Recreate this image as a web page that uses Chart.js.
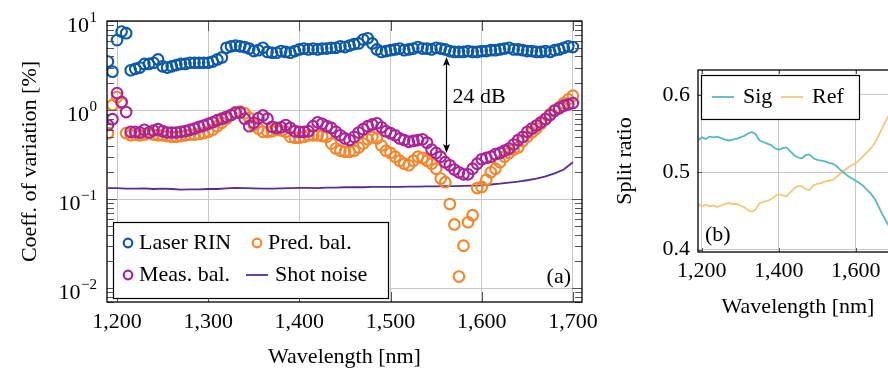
<!DOCTYPE html>
<html>
<head>
<meta charset="utf-8">
<script src="https://cdn.jsdelivr.net/npm/chart.js@4.4.1/dist/chart.umd.min.js"></script>
<style>
  html, body { margin: 0; padding: 0; background: #fff; overflow: hidden; width: 888px; height: 375px; }
  #wrapA { position: absolute; left: 0; top: 0; width: 600px; height: 375px; }
  #wrapB { position: absolute; left: 600px; top: 0; width: 330px; height: 375px; }
</style>
</head>
<body>
<div id="wrapA"><canvas id="chartA" width="600" height="375"></canvas></div>
<div id="wrapB"><canvas id="chartB" width="330" height="375"></canvas></div>
<script>
// --- data (a): coefficient of variation, every 5 nm
const wavelengths = [
  1190,1195,1200,1205,1210,1215,1220,1225,1230,1235,
  1240,1245,1250,1255,1260,1265,1270,1275,1280,1285,
  1290,1295,1300,1305,1310,1315,1320,1325,1330,1335,
  1340,1345,1350,1355,1360,1365,1370,1375,1380,1385,
  1390,1395,1400,1405,1410,1415,1420,1425,1430,1435,
  1440,1445,1450,1455,1460,1465,1470,1475,1480,1485,
  1490,1495,1500,1505,1510,1515,1520,1525,1530,1535,
  1540,1545,1550,1555,1560,1565,1570,1575,1580,1585,
  1590,1595,1600,1605,1610,1615,1620,1625,1630,1635,
  1640,1645,1650,1655,1660,1665,1670,1675,1680,1685,
  1690,1695,1700
];
const laserRin = [
  3.5, 2.7, 6.1, 7.6, 7.3, 2.8, 2.9, 3.0, 3.3, 3.3,
  3.4, 3.7, 3.1, 3.0, 3.1, 3.2, 3.3, 3.3, 3.4, 3.4,
  3.4, 3.4, 3.4, 3.5, 3.7, 3.9, 5.0, 5.2, 5.3, 5.2,
  5.1, 4.9, 4.6, 4.7, 5.0, 4.5, 4.4, 4.4, 4.6, 4.5,
  4.4, 4.6, 4.8, 4.9, 4.8, 4.9, 4.8, 4.9, 4.9, 5.0,
  5.0, 5.2, 5.1, 5.3, 5.5, 5.6, 6.2, 6.4, 5.6, 4.8,
  4.5, 4.6, 4.7, 4.8, 4.9, 4.7, 4.8, 4.9, 5.1, 4.9,
  4.9, 4.8, 5.0, 4.9, 4.8, 4.6, 4.5, 4.5, 4.5, 4.6,
  4.5, 4.5, 4.6, 4.6, 4.7, 4.7, 4.8, 4.9, 5.0, 4.8,
  4.8, 4.7, 4.6, 4.6, 4.5, 4.5, 4.6, 4.5, 4.7, 4.8,
  5.0, 5.2, 5.1
];
const predBal = [
  0.55, 1.14, 1.40, 1.20, 0.55, 0.52, 0.53, 0.52, 0.53, 0.55,
  0.53, 0.52, 0.52, 0.51, 0.50, 0.50, 0.51, 0.52, 0.53, 0.53,
  0.54, 0.55, 0.57, 0.60, 0.66, 0.72, 0.80, 0.88, 0.95, 0.96,
  0.92, 0.82, 0.68, 0.62, 0.57, 0.57, 0.58, 0.60, 0.59, 0.57,
  0.50, 0.49, 0.49, 0.50, 0.52, 0.52, 0.52, 0.51, 0.50, 0.42,
  0.37, 0.35, 0.34, 0.34, 0.35, 0.38, 0.42, 0.47, 0.50, 0.48,
  0.40, 0.35, 0.33, 0.30, 0.27, 0.25, 0.24, 0.27, 0.30, 0.29,
  0.27, 0.25, 0.22, 0.17, 0.155, 0.088, 0.052, 0.0135, 0.030, 0.055,
  0.066, 0.133, 0.137, 0.165, 0.20, 0.22, 0.26, 0.30, 0.33, 0.36,
  0.38, 0.45, 0.50, 0.56, 0.62, 0.70, 0.80, 0.90, 1.00, 1.07,
  1.20, 1.32, 1.45
];
const measBal = [
  0.68, 0.79, 1.55, 1.23, 0.95, 0.57, 0.57, 0.56, 0.60, 0.56,
  0.59, 0.61, 0.58, 0.56, 0.56, 0.56, 0.57, 0.58, 0.60, 0.62,
  0.65, 0.67, 0.70, 0.73, 0.77, 0.80, 0.84, 0.88, 0.93, 0.94,
  0.80, 0.66, 0.72, 0.81, 0.87, 0.80, 0.65, 0.63, 0.64, 0.68,
  0.63, 0.58, 0.57, 0.57, 0.58, 0.66, 0.73, 0.70, 0.66, 0.63,
  0.57, 0.52, 0.48, 0.46, 0.50, 0.56, 0.61, 0.66, 0.69, 0.71,
  0.64, 0.58, 0.55, 0.52, 0.48, 0.46, 0.44, 0.45, 0.46, 0.47,
  0.43, 0.36, 0.33, 0.30, 0.26, 0.24, 0.215, 0.20, 0.19, 0.19,
  0.22, 0.25, 0.28, 0.29, 0.30, 0.32, 0.33, 0.35, 0.37, 0.41,
  0.46, 0.50, 0.57, 0.62, 0.67, 0.73, 0.79, 0.88, 0.98, 1.05,
  1.12, 1.16, 1.20
];

// every 10 nm, used for the shot noise line and the split ratio (b)
const coarseWavelengths = [
  1190,1200,1210,1220,1230,1240,1250,1260,1270,1280,
  1290,1300,1310,1320,1330,1340,1350,1360,1370,1380,
  1390,1400,1410,1420,1430,1440,1450,1460,1470,1480,
  1490,1500,1510,1520,1530,1540,1550,1560,1570,1580,
  1590,1600,1610,1620,1630,1640,1650,1660,1670,1680,
  1690,1700
];
const shotNoise = [
  0.133,0.133,0.131,0.131,0.132,0.130,0.131,0.130,0.128,0.129,
  0.129,0.130,0.130,0.132,0.134,0.133,0.132,0.131,0.131,0.132,
  0.133,0.134,0.134,0.133,0.135,0.135,0.136,0.136,0.136,0.137,
  0.137,0.137,0.137,0.138,0.138,0.139,0.139,0.140,0.140,0.141,
  0.142,0.143,0.146,0.149,0.153,0.157,0.163,0.170,0.180,0.195,
  0.215,0.26
];

// --- data (b): split ratio
const sigRatio = [
  0.541,0.545,0.543,0.546,0.545,0.546,0.544,0.542,0.541,0.542,
  0.543,0.545,0.547,0.550,0.552,0.549,0.541,0.539,0.537,0.535,
  0.531,0.529,0.531,0.532,0.527,0.522,0.519,0.518,0.522,0.523,
  0.518,0.516,0.515,0.514,0.512,0.511,0.508,0.503,0.499,0.495,
  0.492,0.489,0.486,0.482,0.477,0.472,0.465,0.455,0.445,0.436,
  0.428,0.420
];
const refRatio = [
  0.459,0.456,0.458,0.456,0.457,0.455,0.457,0.459,0.460,0.459,
  0.459,0.457,0.455,0.451,0.449,0.452,0.460,0.462,0.463,0.465,
  0.469,0.472,0.470,0.469,0.474,0.479,0.482,0.482,0.478,0.477,
  0.483,0.485,0.486,0.488,0.489,0.490,0.494,0.498,0.502,0.506,
  0.509,0.512,0.516,0.521,0.526,0.531,0.538,0.548,0.558,0.568,
  0.577,0.585
];

// ticks
const xTicksA = [1200, 1300, 1400, 1500, 1600, 1700];
const yTicksA = [0.01, 0.1, 1, 10];
const yExpA = ['\u22122', '\u22121', '0', '1'];
const xTicksB = [1200, 1400, 1600];
const yTicksB = [0.4, 0.5, 0.6];

// 24 dB annotation (wavelength, top, bottom, text height)
const gapX = 1561;
const gapTop = 3.95;
const gapBottom = 0.33;
const gapTextY = 1.4;

// --- styling
const serif = '"Liberation Serif", "DejaVu Serif", serif';
Chart.defaults.font.family = serif;
Chart.defaults.font.size = 22;
Chart.defaults.color = '#000';
Chart.defaults.animation = false;

const cBlue = '#0c5aa6';
const cOrange = '#f5862b';
const cMagenta = '#ab2398';
const cViolet = '#5a2d8f';
const cTeal = '#56b9c4';
const cSand = '#f1c978';
const gridColor = '#c8c8c8';

function pts(xs, ys) {
  return xs.map((x, i) => ({ x: x, y: ys[i] }));
}

function circleSet(label, ys, color, order) {
  return {
    label: label, data: pts(wavelengths, ys), order: order,
    borderColor: color, backgroundColor: 'rgba(0,0,0,0)',
    pointRadius: 5.3, pointBorderWidth: 2.1, showLine: false
  };
}

function noPad(s) {
  s.paddingLeft = 0; s.paddingRight = 0; s.paddingTop = 0; s.paddingBottom = 0;
}

function drawMarker(ctx, ds, x, y) {
  ctx.save();
  ctx.strokeStyle = ds.borderColor;
  if (ds.showLine) {
    ctx.lineWidth = 1.8;
    ctx.beginPath(); ctx.moveTo(x - 11, y); ctx.lineTo(x + 11, y); ctx.stroke();
  } else {
    ctx.lineWidth = 2.2;
    ctx.beginPath(); ctx.arc(x, y, 4.3, 0, Math.PI * 2); ctx.stroke();
  }
  ctx.restore();
}

// frame, minor ticks, exponent labels, legend, annotation for (a)
const decorA = {
  id: 'decorA',
  afterDraw(chart) {
    const { ctx, chartArea: a, scales: { x, y } } = chart;
    ctx.save();

    ctx.strokeStyle = '#555';
    ctx.lineWidth = 1;
    ctx.beginPath();
    xTicksA.forEach(v => {
      const px = Math.round(x.getPixelForValue(v)) + 0.5;
      ctx.moveTo(px, a.top); ctx.lineTo(px, a.top + 10);
      ctx.moveTo(px, a.bottom); ctx.lineTo(px, a.bottom - 10);
    });
    for (let e = -3; e <= 1; e++) {
      for (let m = 1; m <= 9; m++) {
        const v = m * Math.pow(10, e);
        if (v < y.min || v > y.max) continue;
        const py = Math.round(y.getPixelForValue(v)) + 0.5;
        const len = m === 1 ? 10 : 7;
        ctx.moveTo(a.left, py); ctx.lineTo(a.left + len, py);
        ctx.moveTo(a.right, py); ctx.lineTo(a.right - len, py);
      }
    }
    ctx.stroke();

    ctx.strokeStyle = '#000';
    ctx.lineWidth = 1.3;
    ctx.strokeRect(a.left, a.top, a.right - a.left, a.bottom - a.top);

    // y tick labels 10^k
    ctx.fillStyle = '#000';
    ctx.textAlign = 'right';
    ctx.textBaseline = 'alphabetic';
    yTicksA.forEach((v, i) => {
      const py = y.getPixelForValue(v);
      ctx.font = '15px ' + serif;
      const ew = ctx.measureText(yExpA[i]).width;
      ctx.fillText(yExpA[i], a.left - 10, py + 1);
      ctx.font = '22px ' + serif;
      ctx.fillText('10', a.left - 10 - ew - 0.5, py + 11);
    });

    // 24 dB arrow
    const ax = Math.round(x.getPixelForValue(gapX)) + 0.5;
    const yT = y.getPixelForValue(gapTop);
    const yB = y.getPixelForValue(gapBottom);
    ctx.strokeStyle = '#000';
    ctx.lineWidth = 1.2;
    ctx.beginPath(); ctx.moveTo(ax, yT + 4); ctx.lineTo(ax, yB - 4); ctx.stroke();
    ctx.fillStyle = '#000';
    ctx.beginPath();
    ctx.moveTo(ax, yT); ctx.lineTo(ax - 3.5, yT + 9); ctx.lineTo(ax, yT + 7); ctx.lineTo(ax + 3.5, yT + 9); ctx.closePath();
    ctx.moveTo(ax, yB); ctx.lineTo(ax - 3.5, yB - 9); ctx.lineTo(ax, yB - 7); ctx.lineTo(ax + 3.5, yB - 9); ctx.closePath();
    ctx.fill();
    ctx.font = '22px ' + serif;
    ctx.textAlign = 'left';
    ctx.textBaseline = 'middle';
    ctx.fillText('24 dB', ax + 6, y.getPixelForValue(gapTextY));

    // panel tag
    ctx.textAlign = 'right';
    ctx.fillText('(a)', a.right - 11, a.bottom - 25);

    // legend
    const lx = a.left + 6, ly = a.bottom - 80, lw = 275, lh = 76;
    ctx.fillStyle = '#fff';
    ctx.fillRect(lx, ly, lw, lh);
    ctx.strokeStyle = '#000';
    ctx.lineWidth = 1.2;
    ctx.strokeRect(lx + 0.5, ly + 0.5, lw, lh);
    const ds = chart.data.datasets;
    const cells = [
      [ds[0], lx + 15, ly + 21], [ds[1], lx + 144, ly + 21],
      [ds[2], lx + 15, ly + 53], [ds[3], lx + 144, ly + 53]
    ];
    ctx.fillStyle = '#000';
    ctx.textAlign = 'left';
    cells.forEach(([d, cx, cy]) => {
      drawMarker(ctx, d, cx, cy);
      ctx.fillText(d.label, cx + (d.showLine ? 18 : 11), cy);
    });
    ctx.restore();
  }
};

new Chart(document.getElementById('chartA'), {
  type: 'scatter',
  data: {
    datasets: [
      circleSet('Laser RIN', laserRin, cBlue, 3),
      circleSet('Pred. bal.', predBal, cOrange, 2),
      circleSet('Meas. bal.', measBal, cMagenta, 1),
      {
        label: 'Shot noise', data: pts(coarseWavelengths, shotNoise), order: 4,
        showLine: true, pointRadius: 0, borderColor: cViolet, borderWidth: 1.8,
        backgroundColor: cViolet, tension: 0
      }
    ]
  },
  options: {
    responsive: false,
    devicePixelRatio: 1,
    layout: { padding: { top: 21, right: 18, left: 0, bottom: 0 } },
    plugins: { legend: { display: false }, tooltip: { enabled: false } },
    scales: {
      x: {
        type: 'linear', min: 1189, max: 1710,
        afterBuildTicks: s => { s.ticks = xTicksA.map(v => ({ value: v })); },
        afterFit: s => { s.height = 73; noPad(s); },
        ticks: { padding: 7, maxRotation: 0, autoSkip: false },
        grid: { color: gridColor, lineWidth: 1, drawTicks: false },
        border: { display: false },
        title: { display: true, text: 'Wavelength [nm]', padding: { top: 0, bottom: 5 } }
      },
      y: {
        type: 'logarithmic', min: 0.007, max: 10,
        afterBuildTicks: s => { s.ticks = yTicksA.map(v => ({ value: v })); },
        afterFit: s => { s.width = 107; noPad(s); },
        ticks: { display: false },
        grid: { color: gridColor, lineWidth: 1, drawTicks: false },
        border: { display: false },
        title: { display: true, text: 'Coeff. of variation [%]', padding: { top: 17, bottom: 0 } }
      }
    }
  },
  plugins: [decorA]
});

// frame, legend and tag for (b)
const decorB = {
  id: 'decorB',
  afterDraw(chart) {
    const { ctx, chartArea: a, scales: { x, y } } = chart;
    ctx.save();
    ctx.strokeStyle = '#555';
    ctx.lineWidth = 1;
    ctx.beginPath();
    xTicksB.forEach(v => {
      const px = Math.round(x.getPixelForValue(v)) + 0.5;
      ctx.moveTo(px, a.top); ctx.lineTo(px, a.top + 4);
      ctx.moveTo(px, a.bottom); ctx.lineTo(px, a.bottom - 4);
    });
    yTicksB.forEach(v => {
      const py = Math.round(y.getPixelForValue(v)) + 0.5;
      ctx.moveTo(a.left, py); ctx.lineTo(a.left + 4, py);
      ctx.moveTo(a.right, py); ctx.lineTo(a.right - 4, py);
    });
    ctx.stroke();
    ctx.strokeStyle = '#000';
    ctx.lineWidth = 1.3;
    ctx.strokeRect(a.left, a.top, a.right - a.left, a.bottom - a.top);

    ctx.font = '22px ' + serif;
    ctx.fillStyle = '#000';
    ctx.textBaseline = 'middle';
    ctx.textAlign = 'left';
    ctx.fillText('(b)', a.left + 7, a.bottom - 17);

    const lx = a.left + 3, ly = a.top + 5, lw = 158, lh = 44;
    ctx.fillStyle = '#fff';
    ctx.fillRect(lx, ly, lw, lh);
    ctx.strokeStyle = '#000';
    ctx.lineWidth = 1.2;
    ctx.strokeRect(lx + 0.5, ly + 0.5, lw, lh);
    ctx.fillStyle = '#000';
    const ds = chart.data.datasets;
    [[ds[0], lx + 22], [ds[1], lx + 91]].forEach(([d, cx]) => {
      drawMarker(ctx, d, cx, ly + 22);
      ctx.fillText(d.label, cx + 20, ly + 22);
    });
    ctx.restore();
  }
};

new Chart(document.getElementById('chartB'), {
  type: 'scatter',
  data: {
    datasets: [
      { label: 'Sig', data: pts(coarseWavelengths, sigRatio), showLine: true, pointRadius: 0,
        borderColor: cTeal, backgroundColor: cTeal, borderWidth: 1.8 },
      { label: 'Ref', data: pts(coarseWavelengths, refRatio), showLine: true, pointRadius: 0,
        borderColor: cSand, backgroundColor: cSand, borderWidth: 1.8 }
    ]
  },
  options: {
    responsive: false,
    devicePixelRatio: 1,
    layout: { padding: { top: 70, right: 32, left: 0, bottom: 51 } },
    plugins: { legend: { display: false }, tooltip: { enabled: false } },
    scales: {
      x: {
        type: 'linear', min: 1190, max: 1710,
        afterBuildTicks: s => { s.ticks = xTicksB.map(v => ({ value: v })); },
        afterFit: s => { s.height = 72; noPad(s); },
        ticks: { padding: 6, maxRotation: 0, autoSkip: false },
        grid: { color: gridColor, lineWidth: 1, drawTicks: false },
        border: { display: false },
        title: { display: true, text: 'Wavelength [nm]', padding: { top: 0, bottom: 4 } }
      },
      y: {
        type: 'linear', min: 0.397, max: 0.632,
        afterBuildTicks: s => { s.ticks = yTicksB.map(v => ({ value: v })); },
        afterFit: s => { s.width = 98; noPad(s); },
        ticks: { padding: 8, callback: v => v.toFixed(1) },
        grid: { color: gridColor, lineWidth: 1, drawTicks: false },
        border: { display: false },
        title: { display: true, text: 'Split ratio', padding: { top: 12, bottom: 0 } }
      }
    }
  },
  plugins: [decorB]
});
</script>
</body>
</html>
